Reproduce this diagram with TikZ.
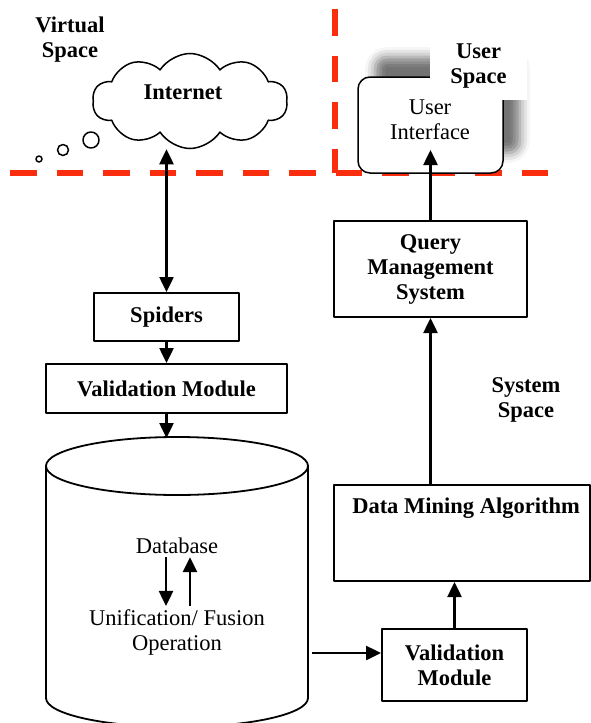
\documentclass[tikz,border=0pt]{standalone}
\usepackage{fontspec}
\setmainfont{Liberation Serif}
\usetikzlibrary{arrows.meta,shapes.symbols,shadows.blur}
\definecolor{sepred}{RGB}{250,45,15}
\begin{document}
\begin{tikzpicture}[x=1pt,y=-1pt,>={Triangle[length=15pt,width=14pt]},line join=round,
		font=\fontsize{22.5}{25}\selectfont,
		box/.style={draw,line width=2pt,fill=white,inner sep=0pt,font=\fontsize{22.5}{25}\selectfont\bfseries,align=center},
		lbl/.style={inner sep=0pt,font=\fontsize{22.5}{25}\selectfont\bfseries,align=center},
		txt/.style={inner sep=3pt,align=center},
		sep/.style={sepred,line width=6.5pt,dash pattern=on 26.5pt off 20pt},
		arr/.style={line width=2.5pt},
		bubble/.style={draw,circle,line width=1.5pt,inner sep=0pt}]
		\clip (0,0) rectangle (591,723);
		% borders of the spaces
		\draw[sep] (10,173)--(550,173);
		\draw[sep] (335,9)--(335,173);
		\node[lbl] (virt) at (70,40) {Virtual\\Space};
		\node[lbl] (sysp) at (526,400) {System\\Space};
		% internet
		\node[cloud,draw,line width=1.5pt,cloud puffs=10,cloud puff arc=115,cloud ignores aspect,
		minimum width=195pt,minimum height=95pt,inner sep=0pt] (inet) at (190,101) {};
		\node[lbl] (inetlbl) at (183,92) {Internet};
		\node[bubble,minimum size=16pt] (bub1) at (91,140) {};
		\node[bubble,minimum size=11pt] (bub2) at (63,150) {};
		\node[bubble,minimum size=6pt] (bub3) at (39,159) {};
		% user interface
		\node[draw,line width=1.5pt,fill=white,rounded corners=12pt,minimum width=145pt,minimum height=96pt,
		blur shadow={shadow xshift=17pt,shadow yshift=20pt,shadow blur radius=10pt,shadow opacity=55}] (ui) at (430.5,125) {};
		\node[txt] (uitxt) at (430,120) {User\\Interface};
		\coordinate (uiin) at (430.5,150);
		\node[lbl,fill=white,minimum width=97pt,minimum height=67pt] (usp) at (478.5,66) {User\\Space};
		% boxes
		\node[box,minimum width=145pt,minimum height=48pt] (sp) at (166.5,317) {Spiders};
		\node[box,minimum width=241pt,minimum height=49pt] (vm) at (166.5,388.5) {Validation Module};
		\node[box,minimum width=145pt,minimum height=72pt] (vm2) at (454.5,665) {Validation\\Module};
		\node[box,minimum width=193pt,minimum height=96pt] (qms) at (430.5,269) {Query\\Management\\System};
		\node[box,minimum width=256pt,minimum height=96pt] (dm) at (462,533) {};
		\node[lbl] (dmtxt) at (466,508) {Data Mining Algorithm};
		% database
		\draw[line width=1.8pt] (46,466)--(46,698) arc[start angle=180,end angle=0,x radius=131,y radius=29]--(308,466);
		\draw[line width=1.8pt] (177,466) ellipse[x radius=131,y radius=29];
		\coordinate (dbtop) at (166.5,438);
		\coordinate (dbout) at (312,653);
		\node[txt] (dbtxt) at (177,546) {Database};
		\node[txt] (uf) at (177,632) {Unification/ Fusion\\Operation};
		% arrows
		\draw[<->,arr] (sp.north)--(sp.north |- inet.south);
		\draw[->,arr] (sp.south)--(vm.north);
		\draw[->,arr] (vm.south)--(dbtop);
		\draw[->,arr] ([xshift=-11pt]dbtxt.south)--([xshift=-11pt]dbtxt.south |- uf.north);
		\draw[<-,arr] ([xshift=13pt]dbtxt.south)--([xshift=13pt]dbtxt.south |- uf.north);
		\draw[->,arr] (dbout)--(dbout -| vm2.west);
		\draw[->,arr] (vm2.north)--(vm2.north |- dm.south);
		\draw[->,arr] (dm.north -| qms.south)--(qms.south);
		\draw[->,arr] (qms.north)--(uiin);
\end{tikzpicture}
\end{document}
